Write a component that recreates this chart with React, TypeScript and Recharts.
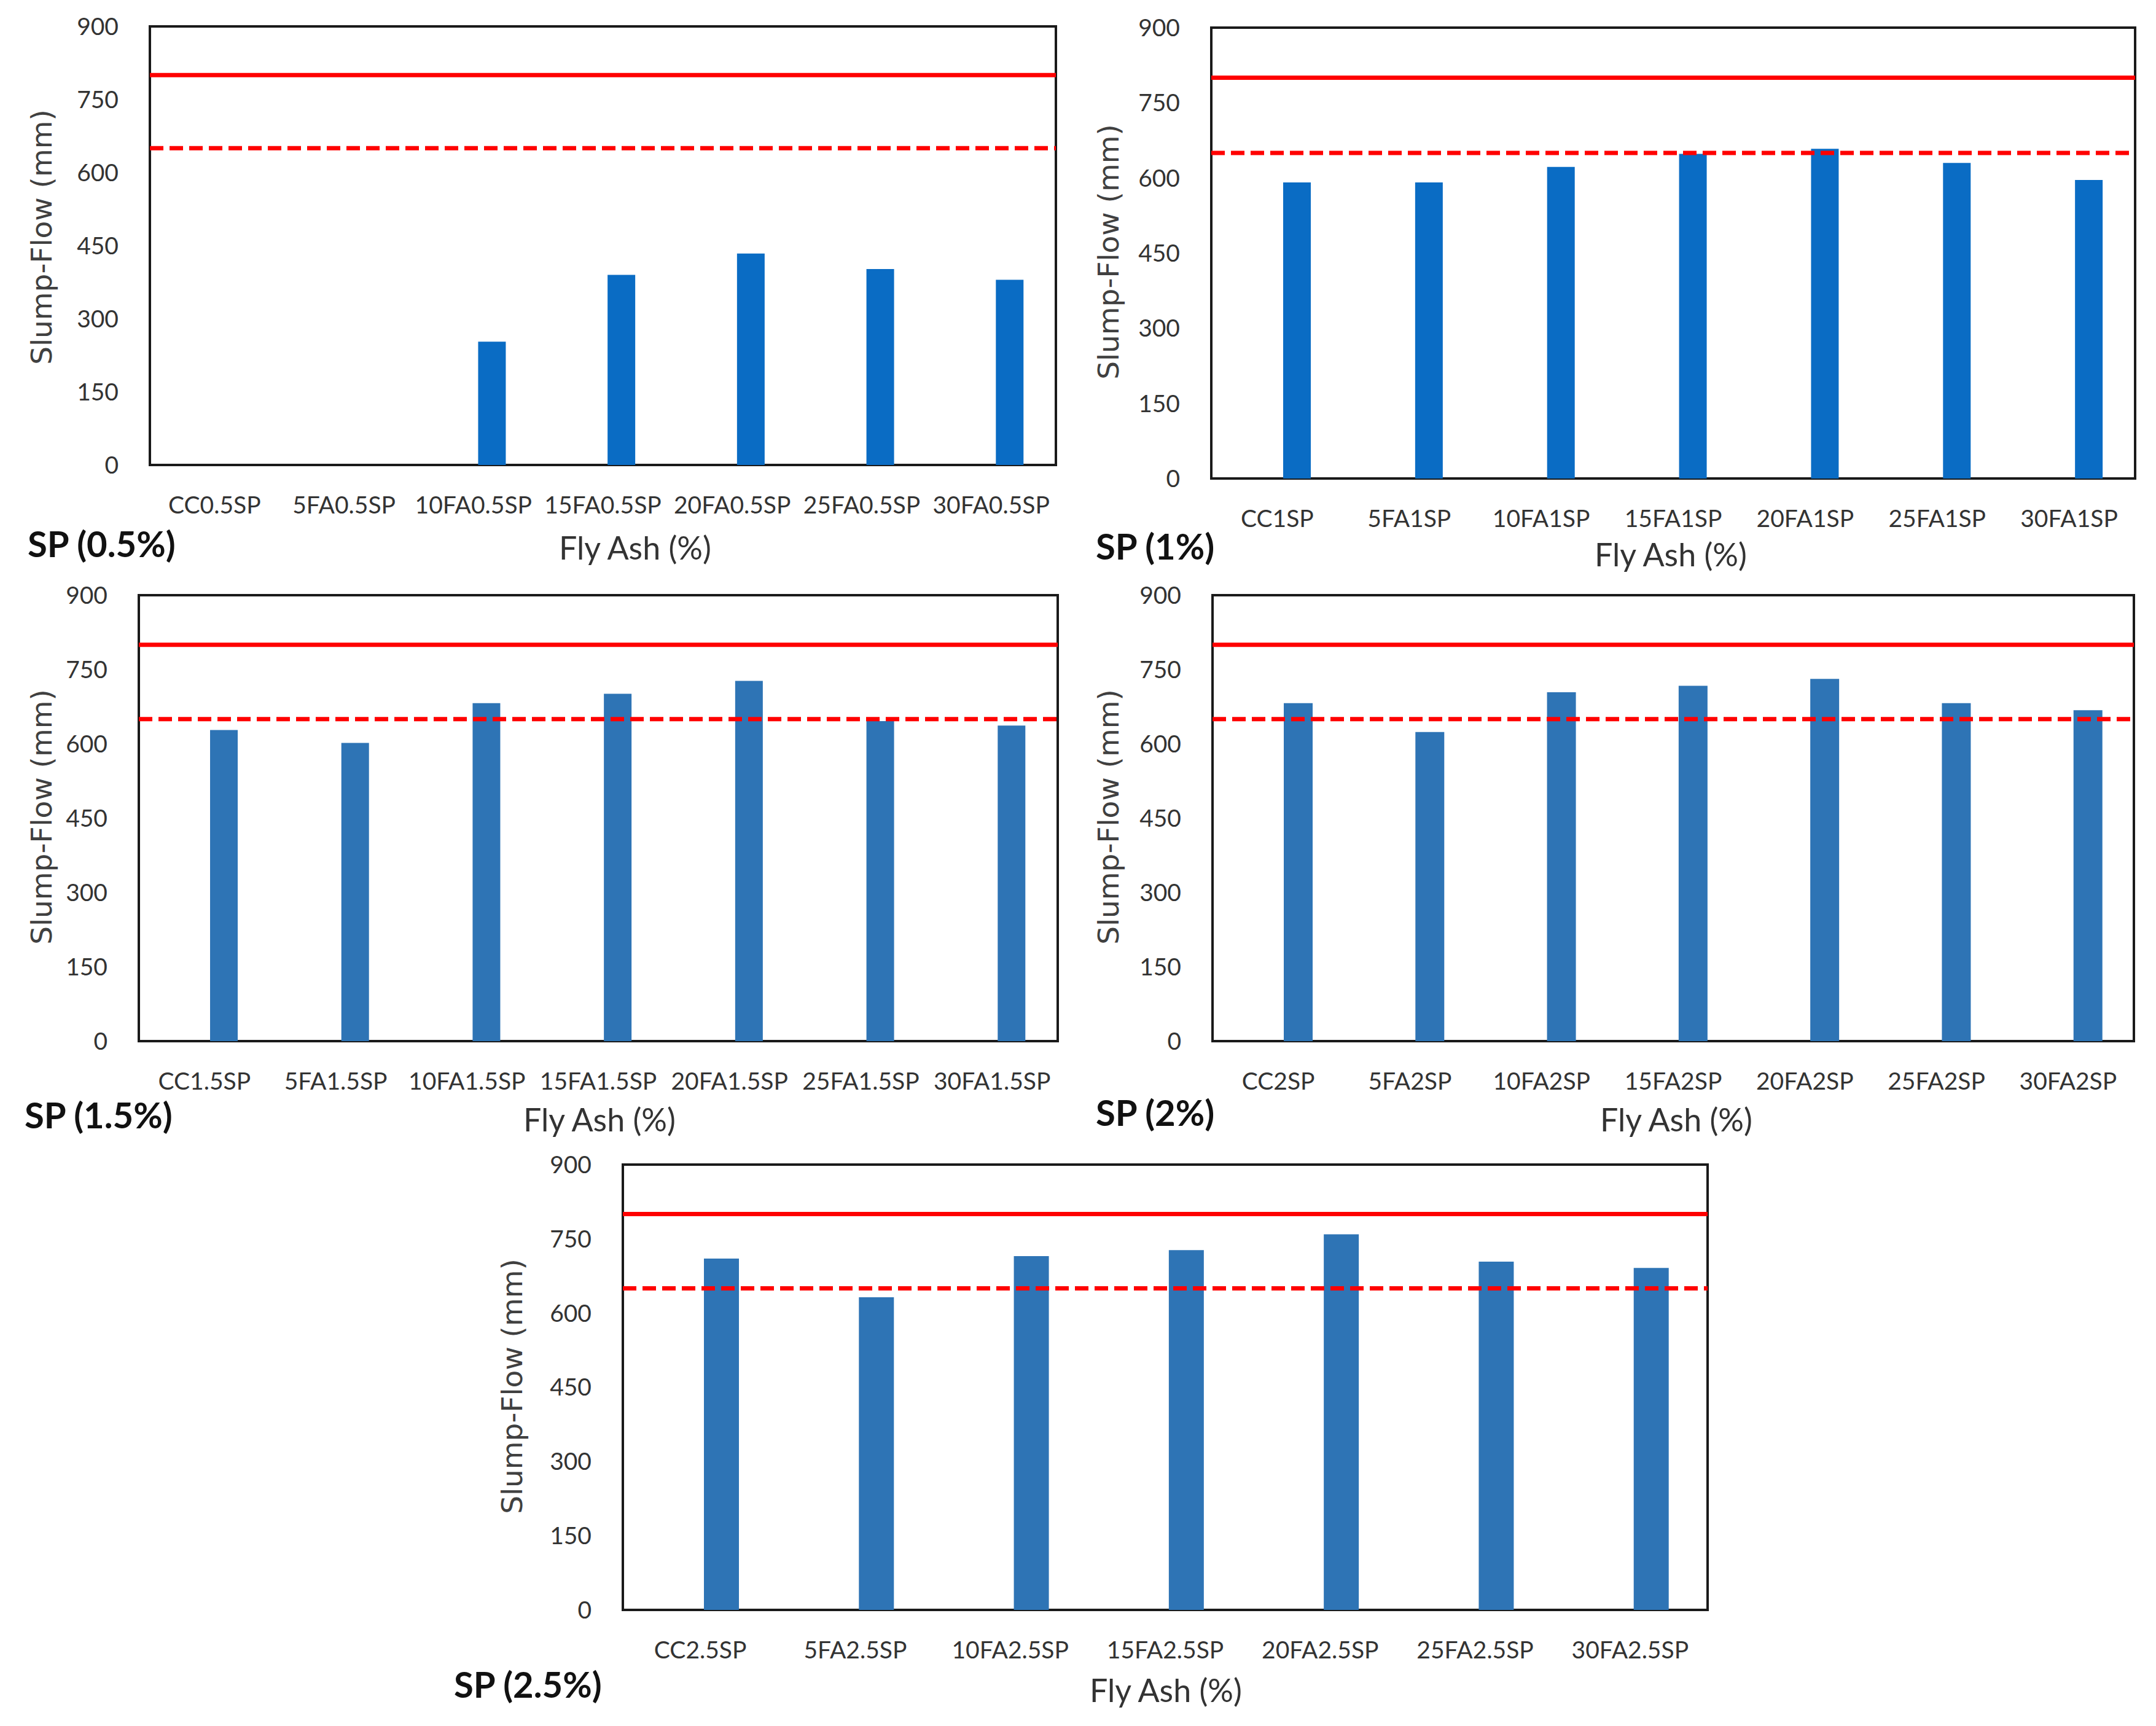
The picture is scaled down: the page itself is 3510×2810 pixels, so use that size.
import React from "react"
import { BarChart, Bar, XAxis, YAxis, ReferenceLine, ReferenceArea, Rectangle } from "recharts"

// Slump-flow (mm) per mix, one array per superplasticizer dosage
const labels05 = ["CC0.5SP", "5FA0.5SP", "10FA0.5SP", "15FA0.5SP", "20FA0.5SP", "25FA0.5SP", "30FA0.5SP"]
const labels1 = ["CC1SP", "5FA1SP", "10FA1SP", "15FA1SP", "20FA1SP", "25FA1SP", "30FA1SP"]
const labels15 = ["CC1.5SP", "5FA1.5SP", "10FA1.5SP", "15FA1.5SP", "20FA1.5SP", "25FA1.5SP", "30FA1.5SP"]
const labels2 = ["CC2SP", "5FA2SP", "10FA2SP", "15FA2SP", "20FA2SP", "25FA2SP", "30FA2SP"]
const labels25 = ["CC2.5SP", "5FA2.5SP", "10FA2.5SP", "15FA2.5SP", "20FA2.5SP", "25FA2.5SP", "30FA2.5SP"]

const flow05 = [0, 0, 253, 390, 434, 402, 380]
const flow1 = [591, 591, 622, 648, 658, 630, 596]
const flow15 = [628, 602, 682, 701, 727, 646, 637]
const flow2 = [682, 624, 704, 717, 731, 682, 668]
const flow25 = [710, 632, 715, 727, 759, 704, 691]

const yTicks = [0, 150, 300, 450, 600, 750, 900]
const upperLimit = 800
const lowerLimit = 650

const DEEP_BLUE = "#0A6CC4"
const STEEL_BLUE = "#2E74B5"
const RED = "#FF0000"
const TEXT = "#333333"

const AXIS_W = 200
const AXIS_H = 150
const PAD = 40

const panels = [
  { sp: "SP (0.5%)", labels: labels05, values: flow05, color: DEEP_BLUE, l: 244, r: 1719, t: 43, b: 757, barSize: 45, shift: 30, yLab: [67, 386], spAt: [45, 885], flyAt: [1034, 891] },
  { sp: "SP (1%)", labels: labels1, values: flow1, color: DEEP_BLUE, l: 1972, r: 3476, t: 45, b: 779, barSize: 45, shift: 32, yLab: [1804, 410], spAt: [1784, 889], flyAt: [2720, 902] },
  { sp: "SP (1.5%)", labels: labels15, values: flow15, color: STEEL_BLUE, l: 226, r: 1722, t: 969, b: 1695, barSize: 45, shift: 32, yLab: [67, 1330], spAt: [40, 1815], flyAt: [976, 1822] },
  { sp: "SP (2%)", labels: labels2, values: flow2, color: STEEL_BLUE, l: 1974, r: 3474, t: 969, b: 1695, barSize: 47, shift: 32, yLab: [1804, 1330], spAt: [1784, 1811], flyAt: [2729, 1822] },
  { sp: "SP (2.5%)", labels: labels25, values: flow25, color: STEEL_BLUE, l: 1014, r: 2780, t: 1896, b: 2621, barSize: 57, shift: 34, yLab: [833, 2257], spAt: [739, 2742], flyAt: [1898, 2751] },
]

const tickStyle = { fontFamily: "Lato", fontSize: 39, fill: TEXT }
const frameColor = "#1a1a1a"

function Panel({ p }: { p: (typeof panels)[number] }) {
  const data = p.labels.map((name, i) => ({ name, flow: p.values[i] }))
  const w = p.r - p.l + AXIS_W + PAD
  const h = p.b - p.t + PAD + AXIS_H
  return (
    <>
      <div style={{ position: "absolute", left: p.l - AXIS_W, top: p.t - PAD }}>
        <BarChart width={w} height={h} data={data} margin={{ top: PAD, right: PAD, left: 0, bottom: 0 }}>
          <XAxis
            dataKey="name"
            interval={0}
            tickLine={false}
            tickSize={6}
            tickMargin={45}
            height={AXIS_H}
            axisLine={false}
            tick={tickStyle}
          />
          <YAxis
            domain={[0, 900]}
            ticks={yTicks}
            interval={0}
            tickLine={false}
            tickSize={6}
            tickMargin={45}
            width={AXIS_W}
            axisLine={false}
            tick={tickStyle}
          />
          <Bar
            dataKey="flow"
            fill={p.color}
            barSize={p.barSize}
            isAnimationActive={false}
            shape={(props: any) => <Rectangle {...props} x={props.x + p.shift} />}
          />
          <ReferenceLine y={upperLimit} stroke={RED} strokeWidth={7} />
          <ReferenceLine y={lowerLimit} stroke={RED} strokeWidth={7} strokeDasharray="22 10" />
          <ReferenceArea y1={0} y2={900} fill="none" stroke={frameColor} strokeWidth={4} />
        </BarChart>
      </div>
      <div
        style={{
          position: "absolute",
          left: p.yLab[0],
          top: p.yLab[1],
          transform: "translate(-50%, -50%) rotate(-90deg)",
          whiteSpace: "nowrap",
          fontFamily: "DejaVu Sans",
          fontSize: 47,
          lineHeight: 1,
          color: "#404040",
        }}
      >
        Slump-Flow (mm)
      </div>
      <div
        style={{
          position: "absolute",
          left: p.spAt[0],
          top: p.spAt[1],
          transform: "translateY(-50%)",
          whiteSpace: "nowrap",
          fontFamily: "Lato",
          fontWeight: 700,
          fontSize: 58,
          lineHeight: 1,
          color: "#111",
        }}
      >
        {p.sp}
      </div>
      <div
        style={{
          position: "absolute",
          left: p.flyAt[0],
          top: p.flyAt[1],
          transform: "translate(-50%, -50%)",
          whiteSpace: "nowrap",
          fontFamily: "Lato",
          fontSize: 52,
          lineHeight: 1,
          color: TEXT,
        }}
      >
        Fly Ash (%)
      </div>
    </>
  )
}

export default function App() {
  return (
    <div style={{ position: "absolute", left: 0, top: 0, width: 3510, height: 2810, background: "#fff", overflow: "hidden" }}>
      {panels.map((p) => (
        <Panel key={p.sp} p={p} />
      ))}
    </div>
  )
}
